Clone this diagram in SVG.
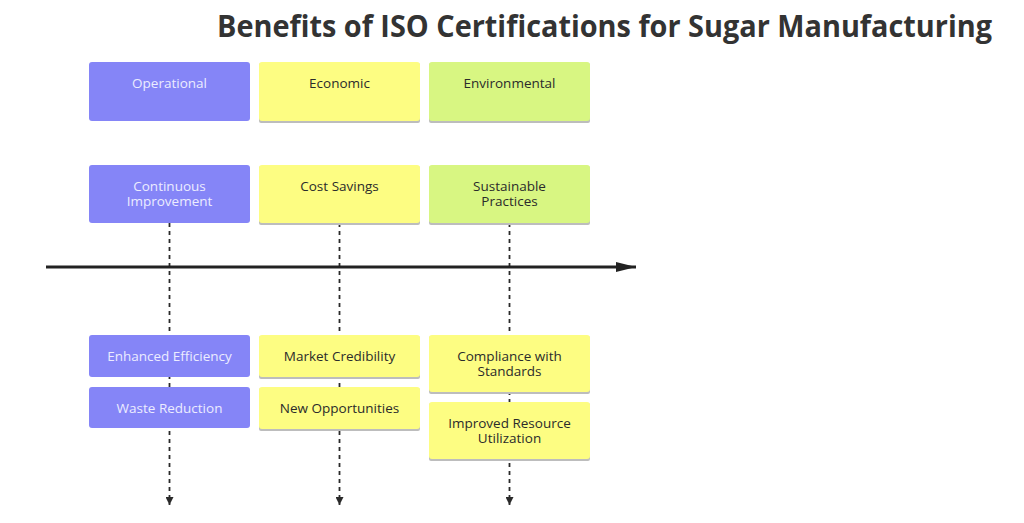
<svg xmlns="http://www.w3.org/2000/svg" width="1024" height="523" viewBox="0 0 1024 523">
<defs>
<style>
.t{font-family:"Open Sans","Liberation Sans",sans-serif;font-size:13.5px;text-anchor:middle}
.pt{fill:#ececff}
.dt{fill:#2b2b2b}
.p{fill:#8585f7}
.y{fill:#fdfd82}
.g{fill:#d8f682}
.sh{fill:#bdbdbd}
.dash{stroke:#2a2a2a;stroke-width:1.8;stroke-dasharray:4 4;fill:none}
</style>
<marker id="ah" viewBox="0 0 10 10" refX="10" refY="5" markerWidth="8" markerHeight="8" markerUnits="userSpaceOnUse" orient="auto"><path d="M0,0 L10,5 L0,10 z" fill="#2a2a2a"/></marker>
<marker id="big" viewBox="0 0 20 10" refX="20" refY="5" markerWidth="20" markerHeight="10" markerUnits="userSpaceOnUse" orient="auto"><path d="M0,0 L20,5 L0,10 z" fill="#222"/></marker>
</defs>
<rect width="1024" height="523" fill="#ffffff"/>
<text x="217" y="37" font-family="'Open Sans','Liberation Sans',sans-serif" font-size="30" font-weight="700" fill="#333" textLength="775" lengthAdjust="spacingAndGlyphs">Benefits of ISO Certifications for Sugar Manufacturing</text>
<g id="connectors">
<line class="dash" x1="169.5" y1="223" x2="169.5" y2="505" marker-end="url(#ah)"/>
<line class="dash" x1="339.5" y1="223" x2="339.5" y2="505" marker-end="url(#ah)"/>
<line class="dash" x1="509.5" y1="223" x2="509.5" y2="505" marker-end="url(#ah)"/>
<line x1="46" y1="267" x2="636" y2="267" stroke="#222" stroke-width="3" marker-end="url(#big)"/>
</g>
<g id="operational">
<rect class="p" x="89" y="62" width="161" height="59" rx="3"/>
<text class="t pt" x="169.5" y="88">Operational</text>
</g>
<g id="economic">
<rect class="sh" x="259" y="63" width="161" height="60" rx="2"/>
<rect class="y" x="259" y="62" width="161" height="59" rx="3"/>
<text class="t dt" x="339.5" y="88">Economic</text>
</g>
<g id="environmental">
<rect class="sh" x="429" y="63" width="161" height="60" rx="2"/>
<rect class="g" x="429" y="62" width="161" height="59" rx="3"/>
<text class="t dt" x="509.5" y="88">Environmental</text>
</g>
<g id="continuous-improvement">
<rect class="p" x="89" y="165" width="161" height="58" rx="3"/>
<text class="t pt" x="169.5" y="191"><tspan x="169.5">Continuous</tspan><tspan x="169.5" dy="15">Improvement</tspan></text>
</g>
<g id="cost-savings">
<rect class="sh" x="259" y="166" width="161" height="59" rx="2"/>
<rect class="y" x="259" y="165" width="161" height="58" rx="3"/>
<text class="t dt" x="339.5" y="191">Cost Savings</text>
</g>
<g id="sustainable-practices">
<rect class="sh" x="429" y="166" width="161" height="59" rx="2"/>
<rect class="g" x="429" y="165" width="161" height="58" rx="3"/>
<text class="t dt" x="509.5" y="191"><tspan x="509.5">Sustainable</tspan><tspan x="509.5" dy="15">Practices</tspan></text>
</g>
<g id="enhanced-efficiency">
<rect class="p" x="89" y="335" width="161" height="42" rx="3"/>
<text class="t pt" x="169.5" y="360.5">Enhanced Efficiency</text>
</g>
<g id="waste-reduction">
<rect class="p" x="89" y="387" width="161" height="41" rx="3"/>
<text class="t pt" x="169.5" y="412.5">Waste Reduction</text>
</g>
<g id="market-credibility">
<rect class="sh" x="259" y="336" width="161" height="43" rx="2"/>
<rect class="y" x="259" y="335" width="161" height="42" rx="3"/>
<text class="t dt" x="339.5" y="360.5">Market Credibility</text>
</g>
<g id="new-opportunities">
<rect class="sh" x="259" y="388" width="161" height="43" rx="2"/>
<rect class="y" x="259" y="387" width="161" height="42" rx="3"/>
<text class="t dt" x="339.5" y="412.5">New Opportunities</text>
</g>
<g id="compliance-with-standards">
<rect class="sh" x="429" y="336" width="161" height="58" rx="2"/>
<rect class="y" x="429" y="335" width="161" height="57" rx="3"/>
<text class="t dt" x="509.5" y="360.5"><tspan x="509.5">Compliance with</tspan><tspan x="509.5" dy="15">Standards</tspan></text>
</g>
<g id="improved-resource-utilization">
<rect class="sh" x="429" y="403" width="161" height="58" rx="2"/>
<rect class="y" x="429" y="402" width="161" height="57" rx="3"/>
<text class="t dt" x="509.5" y="427.5"><tspan x="509.5">Improved Resource</tspan><tspan x="509.5" dy="15">Utilization</tspan></text>
</g>
</svg>
